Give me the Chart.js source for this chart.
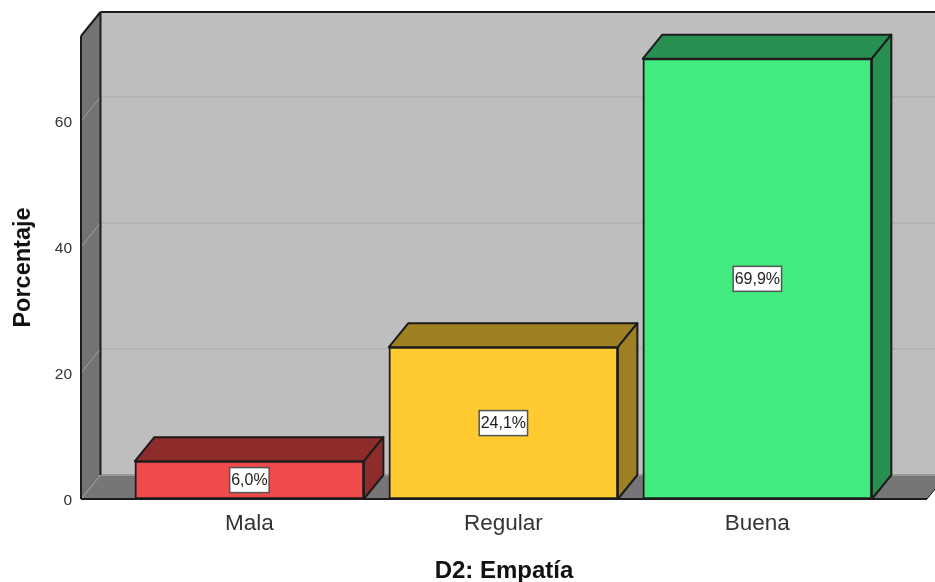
<!DOCTYPE html>
<html>
<head>
<meta charset="utf-8">
<style>html,body{margin:0;padding:0;background:#fff}canvas{display:block}</style>
<script src="https://cdn.jsdelivr.net/npm/chart.js@4"></script>
</head>
<body>
<canvas id="c" width="935" height="582"></canvas>
<script>
const categories = ["Mala", "Regular", "Buena"];
const percentages = [6.0, 24.1, 69.9];
const valueLabels = ["6,0%", "24,1%", "69,9%"];
const yTickValues = [0, 20, 40, 60];
const frontColors = ["#EF4B4B", "#FFCB30", "#42EB7F"];
const sideColors = ["#8E2B2B", "#9E7F21", "#278F4F"];
const yAxisTitle = "Porcentaje";
const xAxisTitle = "D2: Empatía";

const DX = 19.5, DY = -24, INK = "#1c1c1c";

function poly(ctx, pts, fill, stroke, lw) {
  ctx.beginPath();
  pts.forEach((p, i) => i ? ctx.lineTo(p[0], p[1]) : ctx.moveTo(p[0], p[1]));
  ctx.closePath();
  if (fill) { ctx.fillStyle = fill; ctx.fill(); }
  if (stroke) { ctx.strokeStyle = stroke; ctx.lineWidth = lw || 2; ctx.lineJoin = "round"; ctx.stroke(); }
}
function line(ctx, a, b, color, lw) {
  ctx.beginPath(); ctx.moveTo(a[0], a[1]); ctx.lineTo(b[0], b[1]);
  ctx.strokeStyle = color; ctx.lineWidth = lw; ctx.stroke();
}

const box3d = {
  id: "box3d",
  beforeDatasetsDraw(chart) {
    const { ctx, chartArea: a, scales: { y } } = chart;
    const l = a.left, r = a.right, t = a.top, b = y.getPixelForValue(0);
    ctx.save();
    poly(ctx, [[l + DX, t + DY], [r + DX, t + DY], [r + DX, b + DY], [l + DX, b + DY]], "#BEBEBE");
    poly(ctx, [[l, t], [l + DX, t + DY], [l + DX, b + DY], [l, b]], "#737373");
    poly(ctx, [[l, b], [l + DX, b + DY], [r + DX, b + DY], [r, b]], "#767676");
    y.ticks.forEach(tk => {
      const py = y.getPixelForValue(tk.value);
      line(ctx, [l, py], [l + DX, py + DY], "#A0A0A0", 1);
      line(ctx, [l + DX, py + DY], [r + DX, py + DY], tk.value === 0 ? "#999999" : "#ABABAB", tk.value === 0 ? 2 : 1);
    });
    line(ctx, [l, b], [l, t], INK, 2);
    line(ctx, [l, t], [l + DX, t + DY], INK, 2);
    line(ctx, [l + DX, t + DY], [l + DX, b + DY], INK, 2);
    line(ctx, [l + DX, t + DY], [r + DX, t + DY], INK, 2);
    line(ctx, [l, b], [r, b], INK, 2);
    line(ctx, [r, b], [r + DX, b + DY], INK, 1);
    chart.getDatasetMeta(0).data.forEach((el, i) => {
      const p = el.getProps(["x", "y", "base", "width"], true);
      const x0 = p.x - p.width / 2, x1 = p.x + p.width / 2;
      poly(ctx, [[x0, p.y], [x0 + DX, p.y + DY], [x1 + DX, p.y + DY], [x1, p.y]], sideColors[i], INK);
      poly(ctx, [[x1, p.y], [x1 + DX, p.y + DY], [x1 + DX, p.base + DY], [x1, p.base]], sideColors[i], INK);
    });
    ctx.restore();
  },
  afterDatasetsDraw(chart) {
    const { ctx } = chart;
    ctx.save();
    ctx.font = '16px "Liberation Sans"';
    ctx.textAlign = "center";
    ctx.textBaseline = "middle";
    chart.getDatasetMeta(0).data.forEach((el, i) => {
      const p = el.getProps(["x", "y", "base"], true);
      const cy = (p.y + p.base) / 2;
      const w = ctx.measureText(valueLabels[i]).width + 3, h = 25;
      ctx.fillStyle = "#fff";
      ctx.fillRect(p.x - w / 2, cy - h / 2, w, h);
      ctx.strokeStyle = "#555";
      ctx.lineWidth = 1.5;
      ctx.strokeRect(p.x - w / 2, cy - h / 2, w, h);
      ctx.fillStyle = "#222";
      ctx.fillText(valueLabels[i], p.x, cy + 0.5);
    });
    ctx.restore();
  }
};

new Chart(document.getElementById("c"), {
  type: "bar",
  data: {
    datasets: [{
      data: percentages.map((v, i) => ({ x: i, y: v })),
      backgroundColor: frontColors,
      borderColor: INK,
      borderWidth: 2,
      borderSkipped: false,
      barThickness: 229
    }]
  },
  plugins: [box3d],
  options: {
    responsive: false,
    animation: false,
    layout: { padding: { top: 36, right: 8, left: 0, bottom: 0 } },
    plugins: { legend: { display: false }, tooltip: { enabled: false } },
    scales: {
      x: {
        type: "linear",
        offset: false,
        min: -0.663,
        max: 2.668,
        grid: { display: false },
        border: { display: false },
        afterBuildTicks(s) { s.ticks = categories.map((_, i) => ({ value: i })); },
        afterFit(s) { s.height = 83; },
        ticks: {
          autoSkip: false, maxRotation: 0, padding: 3,
          color: "#333", font: { family: "Liberation Sans", size: 22.5 },
          callback: v => categories[v]
        },
        title: {
          display: true, text: xAxisTitle, color: "#111",
          font: { family: "Liberation Sans", size: 24, weight: "bold" },
          padding: { top: 10, bottom: -4 }
        }
      },
      y: {
        min: 0, max: 73.5,
        grid: { display: false },
        border: { display: false },
        afterBuildTicks(s) { s.ticks = yTickValues.map(v => ({ value: v })); },
        afterFit(s) { s.width = 81; },
        ticks: {
          padding: 1, labelOffset: 2, color: "#333",
          font: { family: "Liberation Sans", size: 15.5 }
        },
        title: {
          display: true, text: yAxisTitle, color: "#111",
          font: { family: "Liberation Sans", size: 23.5, weight: "bold" },
          padding: { top: 9, bottom: 0 }
        }
      }
    }
  }
});
</script>
</body>
</html>
